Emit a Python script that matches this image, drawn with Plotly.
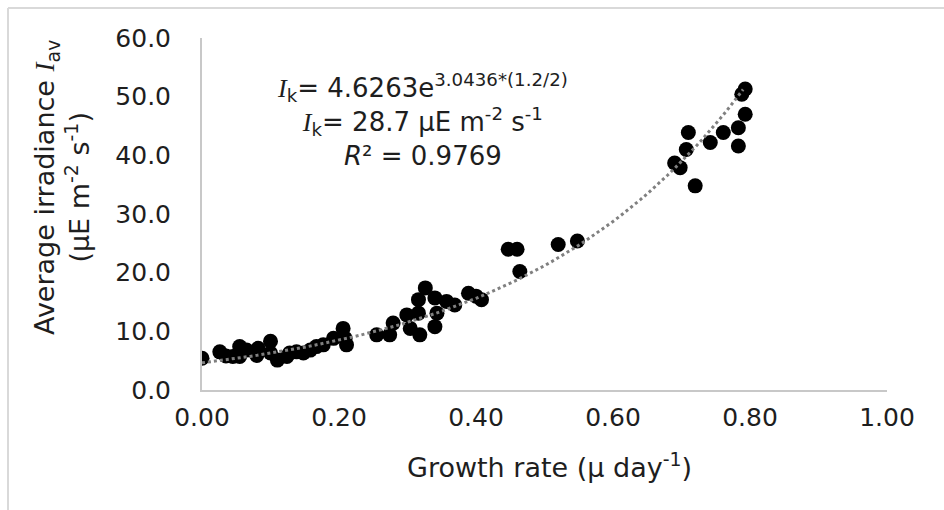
import math
import plotly.graph_objects as go

# Data
growth_rate = [0.00, 0.026, 0.035, 0.045, 0.055, 0.055, 0.065, 0.082, 0.080, 0.100,
               0.100, 0.110, 0.124, 0.128, 0.138, 0.148, 0.158, 0.167, 0.177, 0.192,
               0.206, 0.209, 0.211,
               0.255, 0.274, 0.279, 0.299, 0.304, 0.318, 0.316, 0.316, 0.326, 0.340,
               0.343, 0.340, 0.357, 0.369, 0.389, 0.400, 0.408,
               0.447, 0.460, 0.464, 0.520, 0.548,
               0.690, 0.698, 0.707, 0.710, 0.720, 0.742, 0.761, 0.783, 0.783, 0.788,
               0.793, 0.793]
irradiance = [5.4, 6.5, 5.8, 5.7, 7.4, 5.7, 6.8, 7.1, 5.9, 8.3,
              6.3, 5.1, 5.7, 6.3, 6.5, 6.3, 6.8, 7.4, 7.7, 8.8,
              10.5, 8.8, 7.7,
              9.4, 9.4, 11.4, 12.8, 10.5, 9.4, 13.1, 15.4, 17.4, 15.7,
              13.1, 10.8, 15.1, 14.5, 16.5, 16.0, 15.4,
              24.0, 24.0, 20.2, 24.8, 25.4,
              38.7, 37.9, 41.0, 43.9, 34.8, 42.2, 43.9, 44.7, 41.6, 50.4,
              51.3, 47.0]

# Exponential trendline parameters (shown on chart)
fit_a = 4.6263
fit_b = 3.0436
fit_x_end = 0.79
n_fit = 80

x_ticks = [0.0, 0.2, 0.4, 0.6, 0.8, 1.0]
y_ticks = [0, 10, 20, 30, 40, 50, 60]

fit_x = [fit_x_end * i / (n_fit - 1) for i in range(n_fit)]
fit_y = [fit_a * math.exp(fit_b * v) for v in fit_x]

FONT = "DejaVu Sans"
TXT = "#1e1e1e"
L, R, T, B = 202, 57, 38, 120
PW, PH = 944 - L - R, 510 - T - B


def px(xp):
    return (xp - L) / PW


def py(yp):
    return (510 - B - yp) / PH


fig = go.Figure()
fig.add_trace(go.Scatter(x=growth_rate, y=irradiance, mode="markers",
                         marker=dict(color="black", size=15, line=dict(width=0)),
                         showlegend=False, hoverinfo="skip"))
fig.add_trace(go.Scatter(x=fit_x, y=fit_y, mode="lines",
                         line=dict(color="#808080", width=3, dash="dot"),
                         showlegend=False, hoverinfo="skip"))

fig.update_layout(
    width=944, height=510,
    margin=dict(l=L, r=R, t=T, b=B),
    paper_bgcolor="white", plot_bgcolor="white",
    font=dict(family=FONT, size=25, color=TXT),
    xaxis=dict(range=[0, 1.0], tickvals=x_ticks, tickformat=".2f",
               showgrid=False, zeroline=False, showline=True,
               linecolor="#c8c8c8", linewidth=2, ticks="",
               ticklabelstandoff=4, tickfont=dict(size=25)),
    yaxis=dict(range=[0, 60], tickvals=y_ticks, tickformat=".1f",
               showgrid=False, zeroline=False, showline=True,
               linecolor="#c8c8c8", linewidth=2, ticks="",
               ticklabelstandoff=24, tickfont=dict(size=25)),
)

IS = '<span style="font-family:Liberation Serif"><i>I</i></span>'
fig.add_annotation(xref="paper", yref="paper", x=px(422), y=py(120),
                   text=(IS + "<sub>k</sub>= 4.6263e<sup>3.0436*(1.2/2)</sup><br>"
                         + IS + "<sub>k</sub>= 28.7 μE m<sup>-2</sup> s<sup>-1</sup><br>"
                         + "<i>R</i>² = 0.9769"),
                   showarrow=False, align="center", xanchor="center", yanchor="middle",
                   font=dict(size=26, family=FONT, color=TXT))

fig.add_annotation(xref="paper", yref="paper", x=px(549), y=py(465),
                   text="Growth rate (μ day<sup>-1</sup>)", showarrow=False,
                   xanchor="center", yanchor="middle", font=dict(size=27))
fig.add_annotation(xref="paper", yref="paper", x=px(62), y=py(188),
                   text=("Average irradiance " + IS + "<sub>av</sub><br>"
                         + "(μE m<sup>-2</sup> s<sup>-1</sup>)"),
                   textangle=-90, showarrow=False, align="center",
                   xanchor="center", yanchor="middle", font=dict(size=27))

# chart-area border (light gray)
fig.add_shape(type="line", xref="paper", yref="paper",
              x0=px(8), x1=px(960), y0=py(8), y1=py(8),
              line=dict(color="#d9d9d9", width=2))
fig.add_shape(type="line", xref="paper", yref="paper",
              x0=px(8), x1=px(8), y0=py(8), y1=py(530),
              line=dict(color="#d9d9d9", width=2))

fig.write_html("out.html")
